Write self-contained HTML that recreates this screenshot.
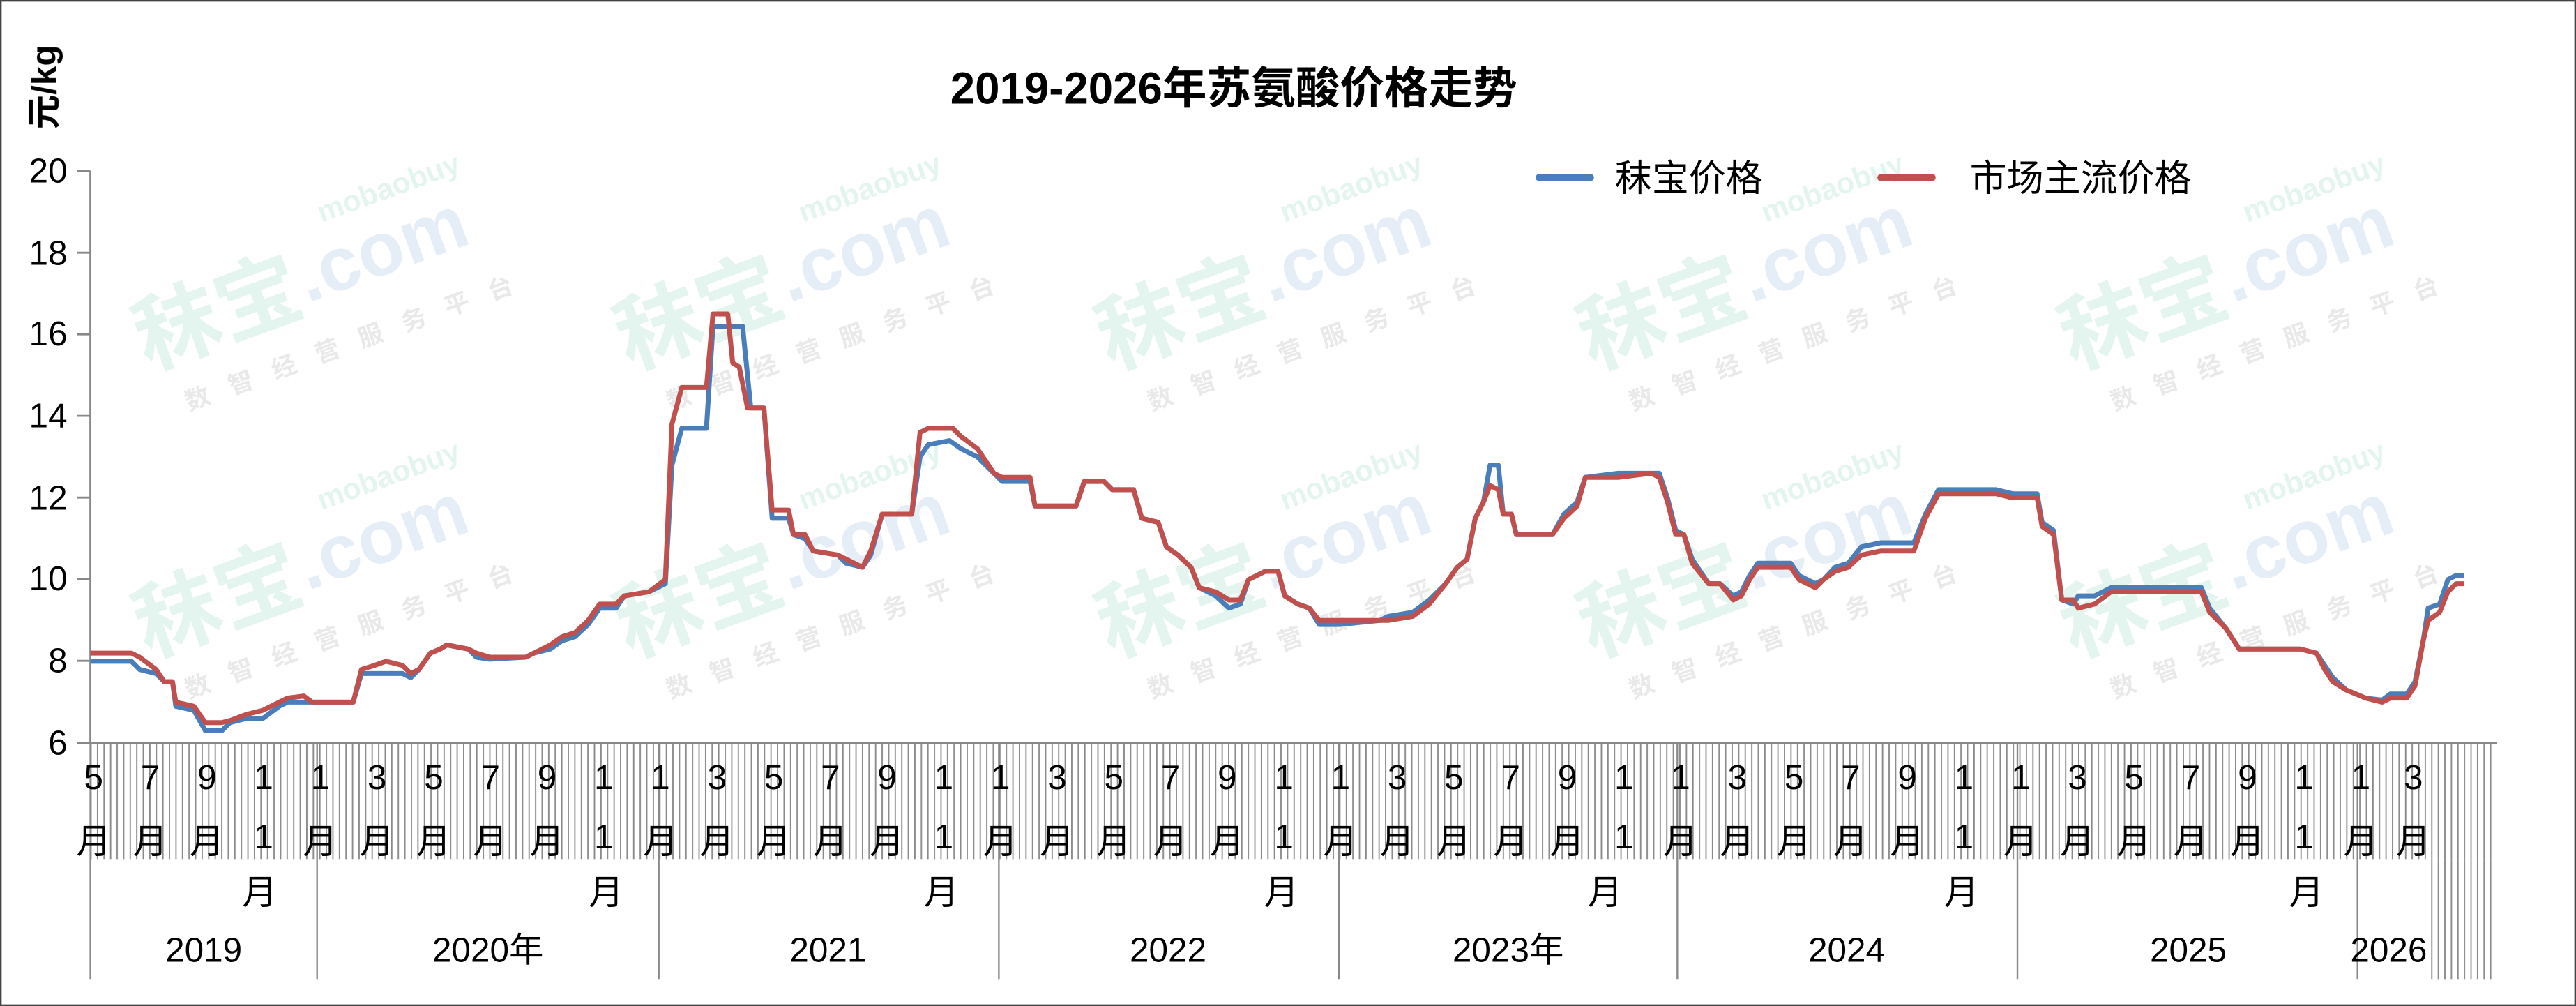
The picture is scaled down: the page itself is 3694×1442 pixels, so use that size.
<!DOCTYPE html>
<html><head><meta charset="utf-8"><style>
html,body{margin:0;padding:0;background:#fff;}
svg{display:block;}
text{font-family:"Liberation Sans","Noto Sans CJK SC",sans-serif;fill:#000;}
</style></head><body>
<svg width="3694" height="1442" viewBox="0 0 1568 612" preserveAspectRatio="none" xmlns="http://www.w3.org/2000/svg">
<defs>
<pattern id="h" x="55" y="0" width="3.98" height="10" patternUnits="userSpaceOnUse">
<line x1="0.4" y1="0" x2="0.4" y2="10" stroke="#8a8a8a" stroke-width="0.8"/>
</pattern>
</defs>
<rect x="0.5" y="0.5" width="1567" height="611" fill="#fff" stroke="#444" stroke-width="1"/>

<!-- watermarks -->
<g opacity="0.13" font-weight="bold">
<g transform="translate(90,225) rotate(-20)"><text x="0" y="0" font-size="52" style="fill:#2bb37a">秣宝</text><text x="105" y="-5" font-size="46" style="fill:#3a78b5">.com</text><text x="130" y="-48" font-size="18" style="fill:#2bb37a">mobaobuy</text><text x="15" y="32" font-size="15" style="fill:#555" letter-spacing="13">数智经营服务平台</text></g>
<g transform="translate(383,225) rotate(-20)"><text x="0" y="0" font-size="52" style="fill:#2bb37a">秣宝</text><text x="105" y="-5" font-size="46" style="fill:#3a78b5">.com</text><text x="130" y="-48" font-size="18" style="fill:#2bb37a">mobaobuy</text><text x="15" y="32" font-size="15" style="fill:#555" letter-spacing="13">数智经营服务平台</text></g>
<g transform="translate(676,225) rotate(-20)"><text x="0" y="0" font-size="52" style="fill:#2bb37a">秣宝</text><text x="105" y="-5" font-size="46" style="fill:#3a78b5">.com</text><text x="130" y="-48" font-size="18" style="fill:#2bb37a">mobaobuy</text><text x="15" y="32" font-size="15" style="fill:#555" letter-spacing="13">数智经营服务平台</text></g>
<g transform="translate(969,225) rotate(-20)"><text x="0" y="0" font-size="52" style="fill:#2bb37a">秣宝</text><text x="105" y="-5" font-size="46" style="fill:#3a78b5">.com</text><text x="130" y="-48" font-size="18" style="fill:#2bb37a">mobaobuy</text><text x="15" y="32" font-size="15" style="fill:#555" letter-spacing="13">数智经营服务平台</text></g>
<g transform="translate(1262,225) rotate(-20)"><text x="0" y="0" font-size="52" style="fill:#2bb37a">秣宝</text><text x="105" y="-5" font-size="46" style="fill:#3a78b5">.com</text><text x="130" y="-48" font-size="18" style="fill:#2bb37a">mobaobuy</text><text x="15" y="32" font-size="15" style="fill:#555" letter-spacing="13">数智经营服务平台</text></g>
<g transform="translate(90,400) rotate(-20)"><text x="0" y="0" font-size="52" style="fill:#2bb37a">秣宝</text><text x="105" y="-5" font-size="46" style="fill:#3a78b5">.com</text><text x="130" y="-48" font-size="18" style="fill:#2bb37a">mobaobuy</text><text x="15" y="32" font-size="15" style="fill:#555" letter-spacing="13">数智经营服务平台</text></g>
<g transform="translate(383,400) rotate(-20)"><text x="0" y="0" font-size="52" style="fill:#2bb37a">秣宝</text><text x="105" y="-5" font-size="46" style="fill:#3a78b5">.com</text><text x="130" y="-48" font-size="18" style="fill:#2bb37a">mobaobuy</text><text x="15" y="32" font-size="15" style="fill:#555" letter-spacing="13">数智经营服务平台</text></g>
<g transform="translate(676,400) rotate(-20)"><text x="0" y="0" font-size="52" style="fill:#2bb37a">秣宝</text><text x="105" y="-5" font-size="46" style="fill:#3a78b5">.com</text><text x="130" y="-48" font-size="18" style="fill:#2bb37a">mobaobuy</text><text x="15" y="32" font-size="15" style="fill:#555" letter-spacing="13">数智经营服务平台</text></g>
<g transform="translate(969,400) rotate(-20)"><text x="0" y="0" font-size="52" style="fill:#2bb37a">秣宝</text><text x="105" y="-5" font-size="46" style="fill:#3a78b5">.com</text><text x="130" y="-48" font-size="18" style="fill:#2bb37a">mobaobuy</text><text x="15" y="32" font-size="15" style="fill:#555" letter-spacing="13">数智经营服务平台</text></g>
<g transform="translate(1262,400) rotate(-20)"><text x="0" y="0" font-size="52" style="fill:#2bb37a">秣宝</text><text x="105" y="-5" font-size="46" style="fill:#3a78b5">.com</text><text x="130" y="-48" font-size="18" style="fill:#2bb37a">mobaobuy</text><text x="15" y="32" font-size="15" style="fill:#555" letter-spacing="13">数智经营服务平台</text></g>
</g>

<!-- title & unit -->
<text x="751" y="63" font-size="27" font-weight="bold" text-anchor="middle">2019-2026年苏氨酸价格走势</text>
<text transform="translate(34,53) rotate(-90)" font-size="21" font-weight="bold" text-anchor="middle">元/kg</text>

<!-- y axis -->
<g stroke="#888" stroke-width="1.2">
<line x1="55" y1="104" x2="55" y2="452"/>
<line x1="47" y1="104" x2="55" y2="104"/><line x1="47" y1="153.7" x2="55" y2="153.7"/><line x1="47" y1="203.4" x2="55" y2="203.4"/><line x1="47" y1="253" x2="55" y2="253"/><line x1="47" y1="302.7" x2="55" y2="302.7"/><line x1="47" y1="352.4" x2="55" y2="352.4"/><line x1="47" y1="402" x2="55" y2="402"/><line x1="47" y1="452" x2="55" y2="452"/>
</g>
<g font-size="21" text-anchor="end">
<text x="41" y="111">20</text><text x="41" y="161">18</text><text x="41" y="210">16</text><text x="41" y="260">14</text><text x="41" y="310">12</text><text x="41" y="359">10</text><text x="41" y="409">8</text><text x="41" y="459">6</text>
</g>

<!-- x axis hatch -->
<rect x="55" y="452" width="1465" height="71" fill="url(#h)"/>
<rect x="1478" y="523" width="42" height="73" fill="url(#h)"/>
<line x1="55" y1="452" x2="1520" y2="452" stroke="#888" stroke-width="1.2"/>
<g stroke="#888" stroke-width="1">
<line x1="55" y1="452" x2="55" y2="596"/><line x1="193" y1="452" x2="193" y2="596"/><line x1="401" y1="452" x2="401" y2="596"/><line x1="608" y1="452" x2="608" y2="596"/><line x1="815" y1="452" x2="815" y2="596"/><line x1="1021" y1="452" x2="1021" y2="596"/><line x1="1228" y1="452" x2="1228" y2="596"/><line x1="1435" y1="452" x2="1435" y2="596"/>
</g>

<!-- month labels -->
<g font-size="21" text-anchor="middle">
<text x="57" y="480">5</text><text x="57" y="519">月</text>
<text x="91.5" y="480">7</text><text x="91.5" y="519">月</text>
<text x="126" y="480">9</text><text x="126" y="519">月</text>
<text x="160.5" y="480">1</text><text x="160.5" y="516">1</text><text x="158" y="550">月</text>
<text x="195" y="480">1</text><text x="195" y="519">月</text>
<text x="229.5" y="480">3</text><text x="229.5" y="519">月</text>
<text x="264" y="480">5</text><text x="264" y="519">月</text>
<text x="298.5" y="480">7</text><text x="298.5" y="519">月</text>
<text x="333" y="480">9</text><text x="333" y="519">月</text>
<text x="367.5" y="480">1</text><text x="367.5" y="516">1</text><text x="369" y="550">月</text>
<text x="402" y="480">1</text><text x="402" y="519">月</text>
<text x="436.5" y="480">3</text><text x="436.5" y="519">月</text>
<text x="471" y="480">5</text><text x="471" y="519">月</text>
<text x="505.5" y="480">7</text><text x="505.5" y="519">月</text>
<text x="540" y="480">9</text><text x="540" y="519">月</text>
<text x="574.5" y="480">1</text><text x="574.5" y="516">1</text><text x="573" y="550">月</text>
<text x="609" y="480">1</text><text x="609" y="519">月</text>
<text x="643.5" y="480">3</text><text x="643.5" y="519">月</text>
<text x="678" y="480">5</text><text x="678" y="519">月</text>
<text x="712.5" y="480">7</text><text x="712.5" y="519">月</text>
<text x="747" y="480">9</text><text x="747" y="519">月</text>
<text x="781.5" y="480">1</text><text x="781.5" y="516">1</text><text x="780" y="550">月</text>
<text x="816" y="480">1</text><text x="816" y="519">月</text>
<text x="850.5" y="480">3</text><text x="850.5" y="519">月</text>
<text x="885" y="480">5</text><text x="885" y="519">月</text>
<text x="919.5" y="480">7</text><text x="919.5" y="519">月</text>
<text x="954" y="480">9</text><text x="954" y="519">月</text>
<text x="988.5" y="480">1</text><text x="988.5" y="516">1</text><text x="977" y="550">月</text>
<text x="1023" y="480">1</text><text x="1023" y="519">月</text>
<text x="1057.5" y="480">3</text><text x="1057.5" y="519">月</text>
<text x="1092" y="480">5</text><text x="1092" y="519">月</text>
<text x="1126.5" y="480">7</text><text x="1126.5" y="519">月</text>
<text x="1161" y="480">9</text><text x="1161" y="519">月</text>
<text x="1195.5" y="480">1</text><text x="1195.5" y="516">1</text><text x="1194" y="550">月</text>
<text x="1230" y="480">1</text><text x="1230" y="519">月</text>
<text x="1264.5" y="480">3</text><text x="1264.5" y="519">月</text>
<text x="1299" y="480">5</text><text x="1299" y="519">月</text>
<text x="1333.5" y="480">7</text><text x="1333.5" y="519">月</text>
<text x="1368" y="480">9</text><text x="1368" y="519">月</text>
<text x="1402.5" y="480">1</text><text x="1402.5" y="516">1</text><text x="1404" y="550">月</text>
<text x="1437" y="480">1</text><text x="1437" y="519">月</text>
<text x="1469" y="480">3</text><text x="1469" y="519">月</text>
</g>
<!-- year labels -->
<g font-size="21" text-anchor="middle">
<text x="124" y="585">2019</text><text x="297" y="585">2020年</text><text x="504" y="585">2021</text><text x="711" y="585">2022</text><text x="918" y="585">2023年</text><text x="1124" y="585">2024</text><text x="1332" y="585">2025</text><text x="1454" y="585">2026</text>
</g>

<!-- legend -->
<line x1="937" y1="108" x2="968" y2="108" stroke="#4a7ebb" stroke-width="4.5" stroke-linecap="round"/>
<text x="983" y="116" font-size="22.5">秣宝价格</text>
<line x1="1145" y1="108" x2="1176" y2="108" stroke="#c0504d" stroke-width="4.5" stroke-linecap="round"/>
<text x="1199" y="116" font-size="22.5">市场主流价格</text>

<!-- series -->
<g transform="translate(0,601.16) scale(1,-24.86)" fill="none" stroke-linejoin="round">
<polyline vector-effect="non-scaling-stroke" stroke="#4a7ebb" stroke-width="7" points="55,8.0 80,8.0 85,7.8 95,7.7 100,7.5 105,7.5 107,6.9 118,6.8 125,6.3 135,6.3 140,6.5 150,6.6 160,6.6 170,6.9 175,7.0 193,7.0 215,7.0 220,7.7 235,7.7 245,7.7 250,7.6 255,7.8 262,8.2 268,8.3 272,8.4 285,8.3 290,8.1 298,8.05 320,8.1 325,8.2 335,8.3 342,8.5 350,8.6 358,8.9 365,9.3 375,9.3 380,9.6 395,9.7 405,9.9 409,12.8 415,13.7 430,13.7 434,16.2 452,16.2 457,14.2 465,14.2 470,11.5 480,11.5 483,11.1 490,11.0 495,10.7 510,10.6 515,10.4 525,10.3 530,10.6 537,11.6 555,11.6 560,13.0 565,13.3 578,13.4 585,13.2 595,13.0 605,12.6 610,12.4 627,12.4 630,11.8 655,11.8 660,12.4 672,12.4 677,12.2 690,12.2 695,11.5 705,11.4 710,10.8 717,10.6 725,10.3 730,9.8 740,9.6 748,9.3 755,9.4 760,10.0 765,10.1 770,10.2 778,10.2 782,9.6 790,9.4 797,9.3 803,8.9 815,8.9 840,9.0 845,9.1 860,9.2 870,9.5 880,9.9 887,10.3 893,10.5 898,11.5 903,11.9 907,12.8 912,12.8 915,11.6 920,11.6 923,11.1 945,11.1 952,11.6 960,11.9 965,12.5 985,12.6 1010,12.6 1015,12.0 1020,11.2 1025,11.1 1030,10.5 1040,9.9 1047,9.9 1055,9.6 1060,9.7 1065,10.1 1070,10.4 1090,10.4 1095,10.1 1105,9.9 1110,10.0 1117,10.3 1125,10.4 1133,10.8 1145,10.9 1165,10.9 1172,11.6 1180,12.2 1215,12.2 1225,12.1 1240,12.1 1243,11.4 1250,11.2 1255,9.5 1262,9.4 1265,9.6 1275,9.6 1285,9.8 1340,9.8 1345,9.3 1355,8.8 1363,8.3 1400,8.3 1410,8.2 1415,7.9 1420,7.6 1428,7.3 1440,7.1 1450,7.05 1455,7.2 1465,7.2 1470,7.5 1475,8.5 1478,9.3 1485,9.4 1490,10.0 1495,10.1 1500,10.1"/>
<polyline vector-effect="non-scaling-stroke" stroke="#c0504d" stroke-width="7" points="55,8.2 80,8.2 85,8.1 95,7.8 100,7.5 105,7.5 107,7.0 118,6.9 125,6.5 135,6.5 140,6.55 150,6.7 160,6.8 170,7.0 175,7.1 185,7.15 190,7.0 215,7.0 220,7.8 228,7.9 235,8.0 245,7.9 250,7.7 255,7.8 262,8.2 268,8.3 272,8.4 285,8.3 290,8.2 298,8.1 320,8.1 325,8.2 335,8.4 342,8.6 350,8.7 358,9.0 365,9.4 375,9.4 380,9.6 395,9.7 405,10.0 409,13.8 415,14.7 430,14.7 434,16.5 443,16.5 446,15.3 450,15.2 455,14.2 465,14.2 470,11.7 480,11.7 483,11.1 490,11.1 495,10.7 510,10.6 515,10.5 525,10.3 530,10.7 537,11.6 555,11.6 560,13.6 565,13.7 580,13.7 585,13.5 595,13.2 605,12.6 610,12.5 627,12.5 630,11.8 655,11.8 660,12.4 672,12.4 677,12.2 690,12.2 695,11.5 705,11.4 710,10.8 717,10.6 725,10.3 730,9.8 740,9.7 748,9.5 755,9.5 760,10.0 765,10.1 770,10.2 778,10.2 782,9.6 790,9.4 797,9.3 803,9.0 845,9.0 860,9.1 870,9.4 880,9.9 887,10.3 893,10.5 898,11.5 903,11.9 907,12.3 912,12.2 915,11.6 920,11.6 923,11.1 945,11.1 952,11.5 960,11.8 965,12.5 985,12.5 1005,12.6 1010,12.5 1015,11.9 1020,11.1 1025,11.1 1030,10.4 1040,9.9 1047,9.9 1055,9.5 1060,9.6 1065,10.0 1070,10.3 1090,10.3 1095,10.0 1105,9.8 1110,10.0 1117,10.2 1125,10.3 1133,10.6 1145,10.7 1165,10.7 1172,11.5 1180,12.1 1215,12.1 1225,12.0 1240,12.0 1243,11.3 1250,11.1 1255,9.5 1262,9.5 1265,9.3 1275,9.4 1285,9.7 1340,9.7 1345,9.2 1355,8.8 1363,8.3 1400,8.3 1410,8.2 1415,7.8 1420,7.5 1428,7.3 1440,7.1 1450,7.0 1455,7.1 1465,7.1 1470,7.4 1475,8.5 1478,9.0 1485,9.2 1490,9.7 1495,9.9 1500,9.9"/>
</g>
</svg>
</body></html>
